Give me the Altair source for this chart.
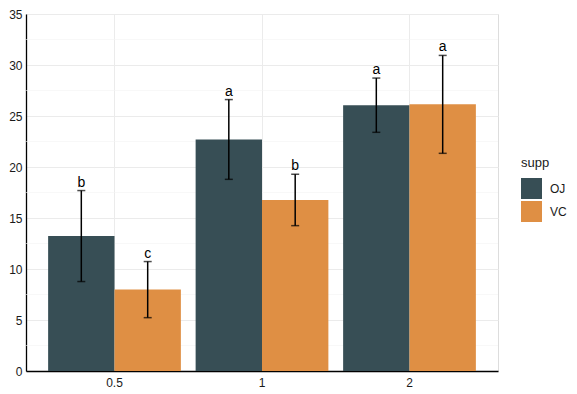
import altair as alt
import pandas as pd

dose = ["0.5", "0.5", "1", "1", "2", "2"]
supp = ["OJ", "VC", "OJ", "VC", "OJ", "VC"]
mean_len = [13.23, 7.98, 22.70, 16.77, 26.06, 26.14]
sd_len = [4.46, 2.75, 3.91, 2.52, 2.66, 4.80]
letters = ["b", "c", "a", "b", "a", "a"]

major_ticks = [0, 5, 10, 15, 20, 25, 30, 35]
minor_ticks = [2.5, 7.5, 12.5, 17.5, 22.5, 27.5, 32.5]

colors = ["#374E55", "#DF8F44"]
FONT = "Liberation Sans"

df = pd.DataFrame({"dose": dose, "supp": supp, "len": mean_len, "sd": sd_len, "lab": letters})
df["lo"] = df["len"] - df["sd"]
df["hi"] = df["len"] + df["sd"]
minor_df = pd.DataFrame({"v": minor_ticks})

xenc = alt.X("dose:N", sort=["0.5", "1", "2"],
             scale=alt.Scale(paddingInner=0.1, paddingOuter=0.15),
             axis=alt.Axis(title=None, labelAngle=0, ticks=False, grid=True, bandPosition=0.5,
                           gridColor="#EBEBEB", gridWidth=1, labelFontSize=12, labelColor="#1a1a1a",
                           labelPadding=6, domainColor="black", domainWidth=1.3, labelFont=FONT))
xoff = alt.XOffset("supp:N", scale=alt.Scale(paddingInner=0, paddingOuter=0))
yscale = alt.Scale(domain=[0, 35], nice=False, zero=True)
yaxis = alt.Axis(title=None, values=major_ticks, ticks=False, grid=True, gridColor="#EBEBEB",
                 gridWidth=1, labelFontSize=12, labelColor="#1a1a1a", labelPadding=4,
                 domainColor="black", domainWidth=1.3, labelFont=FONT)

base = alt.Chart(df)

minor = alt.Chart(minor_df).mark_rule(color="#F3F3F3", strokeWidth=0.6).encode(
    y=alt.Y("v:Q", scale=yscale, axis=yaxis))

bars = base.mark_bar().encode(
    x=xenc, xOffset=xoff,
    y=alt.Y("len:Q", scale=yscale, axis=yaxis),
    color=alt.Color("supp:N", scale=alt.Scale(domain=["OJ", "VC"], range=colors),
                    legend=alt.Legend(title="supp", orient="none", legendX=495, legendY=143,
                                      symbolType="square", symbolSize=441, symbolStrokeWidth=0,
                                      symbolOpacity=1, rowPadding=2, labelOffset=8,
                                      titleFontSize=13, titleFontWeight="normal", labelFontSize=12,
                                      titleFont=FONT, labelFont=FONT, titleColor="#1a1a1a",
                                      labelColor="#1a1a1a", titlePadding=8)))

err = base.mark_rule(color="black", strokeWidth=1.5).encode(
    x=xenc, xOffset=xoff, y=alt.Y("lo:Q", scale=yscale), y2="hi:Q")

cap_lo = base.mark_tick(color="black", thickness=1.5, size=8).encode(
    x=xenc, xOffset=xoff, y=alt.Y("lo:Q", scale=yscale))
cap_hi = base.mark_tick(color="black", thickness=1.5, size=8).encode(
    x=xenc, xOffset=xoff, y=alt.Y("hi:Q", scale=yscale))

txt = base.mark_text(baseline="bottom", dy=-1, fontSize=14, font=FONT, color="black").encode(
    x=xenc, xOffset=xoff, y=alt.Y("hi:Q", scale=yscale), text="lab:N")

chart = alt.layer(minor, bars, err, cap_lo, cap_hi, txt).properties(
    width=472, height=357, padding={"left": 0, "top": 0, "right": 0, "bottom": 0}
).configure_view(stroke=None).configure(background="white")

chart.save("out.html", embed_options={"renderer": "svg", "actions": False})
